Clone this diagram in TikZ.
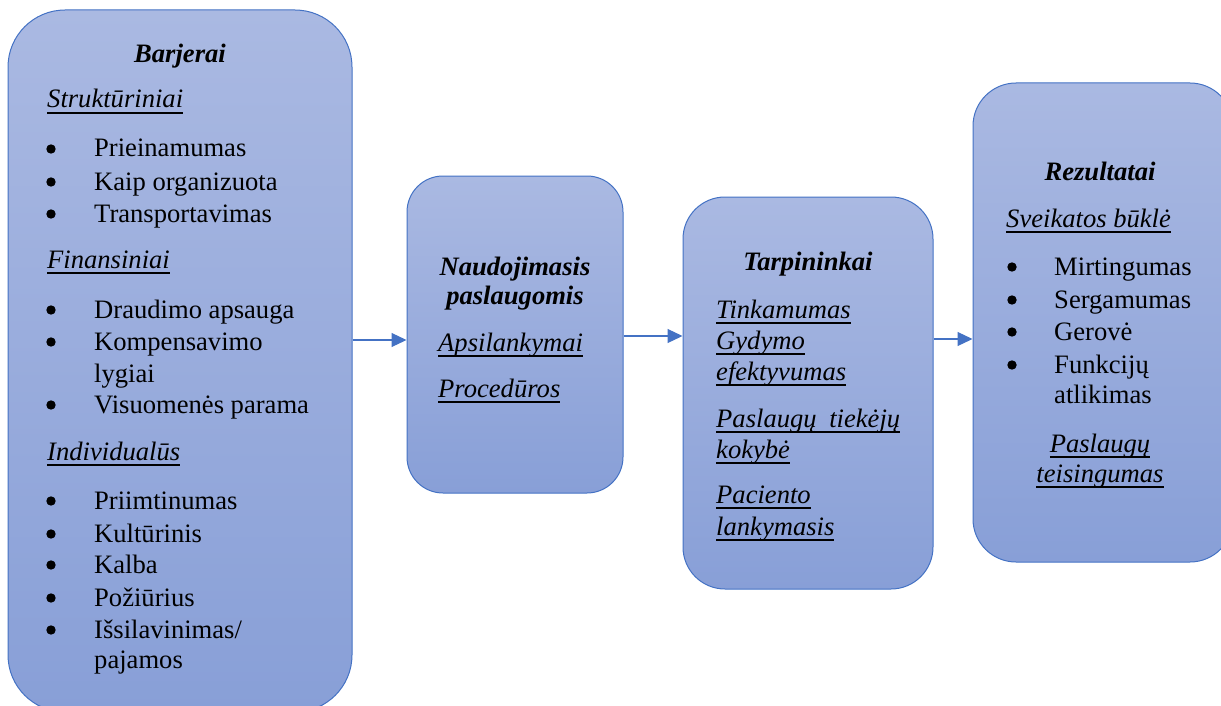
\documentclass[tikz,border=0pt]{standalone}
\usepackage{fontspec}
\setmainfont{Liberation Serif}
\usetikzlibrary{arrows.meta}
\definecolor{edge}{RGB}{68,114,196}
\definecolor{fillTop}{RGB}{170,185,226}
\definecolor{fillBot}{RGB}{136,159,215}
\newcommand\bodyfont{\fontsize{26.6}{33}\selectfont}
% underline at a fixed depth, independent of descenders
\newcommand\ulword[1]{\setbox0\hbox{#1}\rlap{\rule[-5.6pt]{\wd0}{1.7pt}}\box0}
\newcommand\dotat[2]{\fill (#1,#2-8) circle (4.7pt);}
\begin{document}
\begin{tikzpicture}[x=1pt,y=-1pt,
  panel/.style={draw=edge, line width=1pt, top color=fillTop, bottom color=fillBot, inner sep=0pt},
  txt/.style={anchor=base west, inner sep=0pt, font=\bodyfont},
  head/.style={anchor=base, inner sep=0pt, font=\bodyfont\bfseries\itshape},
  sub/.style={anchor=base west, inner sep=0pt, font=\bodyfont\itshape},
  subc/.style={anchor=base, inner sep=0pt, font=\bodyfont\itshape},
  link/.style={draw=edge, line width=1.2pt, -{Triangle[length=15pt,width=14pt]}}]
\useasboundingbox (0,0) rectangle (1221,706);
\clip (0,0) rectangle (1221,706);

% panels
\node[panel, minimum width=344pt, minimum height=702pt, rounded corners=57pt] (p1) at (180,361) {};
\node[panel, minimum width=216pt, minimum height=317pt, rounded corners=36pt] (p2) at (515,334.5) {};
\node[panel, minimum width=250pt, minimum height=392pt, rounded corners=42pt] (p3) at (808,393) {};
\node[panel, minimum width=260pt, minimum height=479pt, rounded corners=43pt] (p4) at (1103,322.5) {};

% connectors
\coordinate (h1) at (0,340);
\coordinate (h2) at (0,336);
\coordinate (h3) at (0,339);
\draw[link] (p1.east |- h1) -- (p2.west |- h1);
\draw[link] (p2.east |- h2) -- (p3.west |- h2);
\draw[link] (p3.east |- h3) -- (p4.west |- h3);

% Barjerai
\node[head] (t1) at (180,63) {Barjerai};
\node[sub] (s11) at (47,108) {\ulword{Struktūriniai}};
\node[txt] (a1) at (94,157) {Prieinamumas};        \dotat{51}{157}
\node[txt] (a2) at (94,190) {Kaip organizuota};    \dotat{51}{190}
\node[txt] (a3) at (94,222) {Transportavimas};     \dotat{51}{222}
\node[sub] (s12) at (47,268) {\ulword{Finansiniai}};
\node[txt] (a4) at (94,318) {Draudimo apsauga};    \dotat{51}{318}
\node[txt] (a5) at (94,350) {Kompensavimo};        \dotat{51}{350}
\node[txt] (a5b) at (94,382) {lygiai};
\node[txt] (a6) at (94,413) {Visuomenės parama};   \dotat{51}{413}
\node[sub] (s13) at (47,460) {\ulword{Individualūs}};
\node[txt] (a7) at (94,509) {Priimtinumas};        \dotat{51}{509}
\node[txt] (a8) at (94,542) {Kultūrinis};          \dotat{51}{542}
\node[txt] (a9) at (94,573) {Kalba};               \dotat{51}{573}
\node[txt] (a10) at (94,606) {Požiūrius};          \dotat{51}{606}
\node[txt] (a11) at (94,638) {Išsilavinimas/};     \dotat{51}{638}
\node[txt] (a11b) at (94,668) {pajamos};

% Naudojimasis paslaugomis
\node[head] (t2a) at (515,275) {Naudojimasis};
\node[head] (t2b) at (515,304) {paslaugomis};
\node[sub] (s21) at (438,351) {\ulword{Apsilankymai}};
\node[sub] (s22) at (438,397) {\ulword{Procedūros}};

% Tarpininkai
\node[head] (t3) at (808,270) {Tarpininkai};
\node[sub] (s31) at (716,318) {\ulword{Tinkamumas}};
\node[sub] (s32) at (716,349) {\ulword{Gydymo}};
\node[sub] (s33) at (716,380) {\ulword{efektyvumas}};
\node[sub] (s34) at (716,427) {\ulword{\makebox[184pt][s]{Paslaugų tiekėjų}}};
\node[sub] (s35) at (716,458) {\ulword{kokybė}};
\node[sub] (s36) at (716,503) {\ulword{Paciento}};
\node[sub] (s37) at (716,535) {\ulword{lankymasis}};

% Rezultatai
\node[head] (t4) at (1100,180) {Rezultatai};
\node[sub] (s41) at (1006,227) {\ulword{Sveikatos būklė}};
\node[txt] (r1) at (1054,275) {Mirtingumas};        \dotat{1012}{275}
\node[txt] (r2) at (1054,308) {Sergamumas};         \dotat{1012}{308}
\node[txt] (r3) at (1054,340) {Gerovė};             \dotat{1012}{340}
\node[txt] (r4) at (1054,373) {Funkcijų};           \dotat{1012}{373}
\node[txt] (r4b) at (1054,403) {atlikimas};
\node[subc] (s42) at (1100,452) {\ulword{Paslaugų}};
\node[subc] (s43) at (1100,482) {\ulword{teisingumas}};
\end{tikzpicture}
\end{document}
